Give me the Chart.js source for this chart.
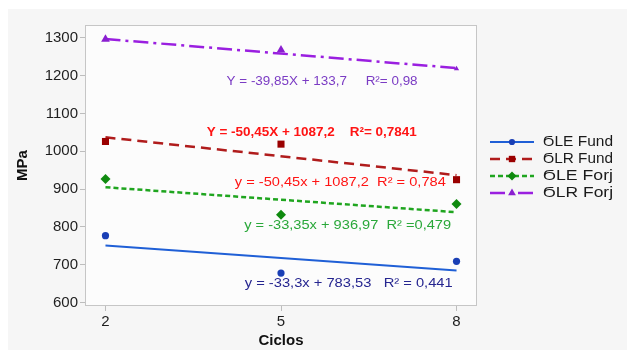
<!DOCTYPE html>
<html>
<head>
<meta charset="utf-8">
<script src="https://cdn.jsdelivr.net/npm/chart.js@4.4.1/dist/chart.umd.min.js"></script>
<style>
  html, body { margin: 0; padding: 0; background: #fff; }
  canvas { display: block; }
</style>
</head>
<body>
<canvas id="tensaoChart" width="627" height="350"></canvas>
<script>
// ── data ──────────────────────────────────────────────────
const ciclos = [2, 5, 8];
const yTicks = [600, 700, 800, 900, 1000, 1100, 1200, 1300];

const leFund = [777, 678, 709];
const lrFund = [1026, 1019, 925];
const leForj = [927, 832, 861];
const lrForj = [1296, 1268, 1218];

// trend lines, values at x = 2 and x = 8
const trendEnds  = [2, 8];
const leFundTrend = [751, 685];
const lrFundTrend = [1037, 937];
const leForjTrend = [905, 839];
const lrForjTrend = [1297, 1220];

const seriesNames = ['ϬLE Fund', 'ϬLR Fund', 'ϬLE Forj', 'ϬLR Forj'];

const eqTexts = [
  'Y = -39,85X + 133,7     R²= 0,98',
  'Y = -50,45X + 1087,2    R²= 0,7841',
  'y = -50,45x + 1087,2  R² = 0,784',
  'y = -33,35x + 936,97  R² =0,479',
  'y = -33,3x + 783,53   R² = 0,441',
];

const pts  = (ys) => ys.map((y, i) => ({ x: ciclos[i], y }));
const line = (ys) => ys.map((y, i) => ({ x: trendEnds[i], y }));

/* ─────────────────────────────────────────────
 * STYLES
 * ───────────────────────────────────────────── */
const styles = [
  { line: '#1f5fd6', mark: '#1a3fb5', dash: [],            width: 2,   shape: 'circle',   r: 3.6 },
  { line: '#b01c1c', mark: '#9a0000', dash: [10, 6],       width: 2.5, shape: 'rect',     r: 5 },
  { line: '#1fa51f', mark: '#0f8a0f', dash: [5, 3],        width: 2.5, shape: 'rectRot',  r: 5 },
  { line: '#9a1fe0', mark: '#8a1fd0', dash: [15, 5, 3, 5], width: 2.5, shape: 'triangle', r: 5 },
];

const pointSets = [leFund, lrFund, leForj, lrForj];
const trendSets = [leFundTrend, lrFundTrend, leForjTrend, lrForjTrend];

const datasets = [];
pointSets.forEach((ys, i) => {
  const s = styles[i];
  datasets.push({
    label: seriesNames[i],
    data: pts(ys),
    showLine: false,
    pointStyle: s.shape,
    pointRadius: i === 3 ? [5, 5, 3] : s.r,
    backgroundColor: s.mark,
    borderColor: s.mark,
    borderWidth: 0,
  });
});
trendSets.forEach((ys, i) => {
  const s = styles[i];
  datasets.push({
    label: seriesNames[i] + ' trend',
    data: line(ys),
    borderColor: s.line,
    borderDash: s.dash,
    borderWidth: s.width,
    pointRadius: 0,
    fill: false,
  });
});

// equation labels: left edge (x), vertical centre (y) in data units, width in px
const eqPlace = [
  { x: 4.07, y: 1184, w: 191, color: '#7b3cc4', bold: false },
  { x: 3.73, y: 1051, w: 210, color: '#ff1414', bold: true },
  { x: 4.21, y: 919,  w: 211, color: '#ff1414', bold: false },
  { x: 4.37, y: 805,  w: 207, color: '#2aa83a', bold: false },
  { x: 4.38, y: 651,  w: 208, color: '#262690', bold: false },
];

/* ─────────────────────────────────────────────
 * PLUGINS
 * ───────────────────────────────────────────── */
const panelBg = {
  id: 'panelBg',
  beforeDraw(chart) {
    const { ctx, chartArea: a } = chart;
    ctx.save();
    ctx.fillStyle = '#ffffff';
    ctx.fillRect(0, 0, chart.width, chart.height);
    ctx.fillStyle = '#f6f6f6';
    ctx.fillRect(8, 9, chart.width - 8, chart.height - 9);
    ctx.fillStyle = '#fcfcfc';
    ctx.fillRect(a.left, a.top, a.right - a.left, a.bottom - a.top);
    ctx.strokeStyle = '#c6c6c6';
    ctx.lineWidth = 1;
    ctx.strokeRect(a.left + 0.5, a.top + 0.5, a.right - a.left - 1, a.bottom - a.top - 1);
    ctx.restore();
  },
};

const equations = {
  id: 'equations',
  afterDatasetsDraw(chart) {
    const { ctx, scales: { x, y } } = chart;
    ctx.save();
    ctx.textBaseline = 'middle';
    ctx.textAlign = 'left';
    eqTexts.forEach((t, i) => {
      const p = eqPlace[i];
      ctx.font = (p.bold ? '600 ' : '') + '13px "Liberation Sans", Arial, sans-serif';
      const px = x.getPixelForValue(p.x);
      const py = y.getPixelForValue(p.y);
      const sx = p.w / ctx.measureText(t).width;
      ctx.save();
      ctx.translate(px, py);
      ctx.scale(sx, 1);
      ctx.fillStyle = p.color;
      ctx.fillText(t, 0, 0);
      ctx.restore();
    });
    ctx.restore();
  },
};

const sideLegend = {
  id: 'sideLegend',
  afterDraw(chart) {
    const { ctx } = chart;
    const x0 = 490, x1 = 534, tx = 543;
    const rows = [142, 159, 176, 193];
    ctx.save();
    seriesNames.forEach((name, i) => {
      const s = styles[i];
      const yy = rows[i];
      ctx.strokeStyle = s.line;
      ctx.lineWidth = s.width;
      ctx.setLineDash(s.dash);
      ctx.beginPath();
      ctx.moveTo(x0, yy);
      ctx.lineTo(x1, yy);
      ctx.stroke();
      ctx.setLineDash([]);
      ctx.fillStyle = s.mark;
      Chart.helpers.drawPoint(ctx, { pointStyle: s.shape, radius: s.r - 0.5, borderWidth: 0 }, (x0 + x1) / 2, yy);
      ctx.font = '14px "Liberation Sans", Arial, sans-serif';
      ctx.textBaseline = 'middle';
      ctx.fillStyle = '#1a1a1a';
      const w = ctx.measureText(name).width;
      ctx.save();
      ctx.translate(tx, yy);
      ctx.scale(70 / w, 1);
      ctx.fillText(name, 0, 0);
      ctx.restore();
    });
    ctx.restore();
  },
};

/* ─────────────────────────────────────────────
 * CHART
 * ───────────────────────────────────────────── */
const tickFont = { family: '"Liberation Sans", Arial, sans-serif', size: 15 };
const titleFont = { family: '"Liberation Sans", Arial, sans-serif', size: 15, weight: 'bold' };

new Chart(document.getElementById('tensaoChart').getContext('2d'), {
  type: 'line',
  data: { datasets },
  options: {
    responsive: false,
    animation: false,
    devicePixelRatio: 1,
    layout: { padding: { left: 14, top: 25, right: 150, bottom: 0 } },
    plugins: {
      legend: { display: false },
      tooltip: { enabled: false },
    },
    scales: {
      x: {
        type: 'linear',
        min: 1.65,
        max: 8.35,
        afterBuildTicks: s => { s.ticks = ciclos.map(v => ({ value: v })); },
        afterFit: s => { s.height = 44; },
        border: { display: false },
        grid: { drawOnChartArea: false, drawTicks: true, tickLength: 5, color: '#bdbdbd' },
        ticks: { font: tickFont, color: '#1e1e1e', padding: 2, maxRotation: 0, callback: v => String(v) },
        title: { display: true, text: 'Ciclos', font: titleFont, color: '#111', padding: 0 },
      },
      y: {
        min: 591,
        max: 1334,
        afterBuildTicks: s => { s.ticks = yTicks.map(v => ({ value: v })); },
        afterFit: s => { s.width = 71; },
        border: { display: false },
        grid: { drawOnChartArea: false, drawTicks: true, tickLength: 5, color: '#bdbdbd' },
        ticks: { font: tickFont, color: '#1e1e1e', padding: 2, callback: v => String(v) },
        title: { display: true, text: 'MPa', font: titleFont, color: '#111', padding: 0 },
      },
    },
  },
  plugins: [panelBg, equations, sideLegend],
});
</script>
</body>
</html>
